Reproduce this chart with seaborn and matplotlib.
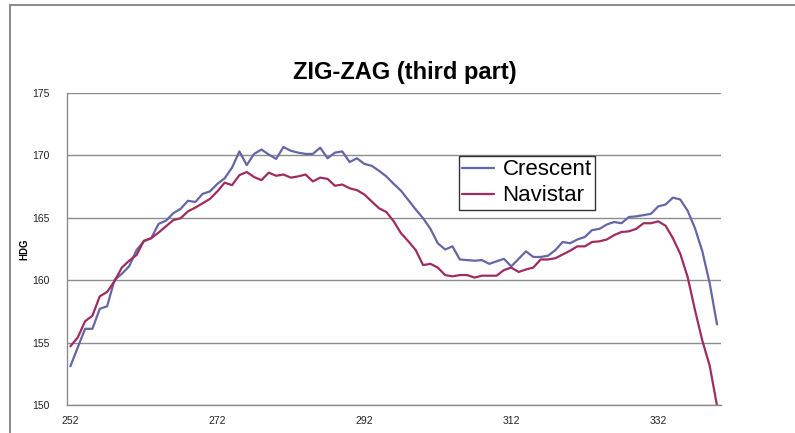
import numpy as np
import pandas as pd
import matplotlib
matplotlib.use("Agg")
import matplotlib.pyplot as plt
import seaborn as sns
from matplotlib.patches import Rectangle
from matplotlib.lines import Line2D

x_start = 252
crescent = [153.1, 154.6, 156.1, 156.1, 157.7, 157.9, 160.0, 160.5, 161.1, 162.4,
            163.1, 163.35, 164.5, 164.75, 165.35, 165.7, 166.35, 166.25, 166.9, 167.1,
            167.7, 168.15, 169.0, 170.3, 169.2, 170.1, 170.45, 170.05, 169.7, 170.65,
            170.35, 170.2, 170.1, 170.1, 170.6, 169.75, 170.2, 170.3, 169.45, 169.75,
            169.3, 169.15, 168.75, 168.3, 167.7, 167.15, 166.4, 165.65, 164.95, 164.1,
            162.95, 162.45, 162.7, 161.65, 161.6, 161.55, 161.6, 161.3, 161.5, 161.7,
            161.1, 161.7, 162.3, 161.85, 161.85, 161.95, 162.4, 163.05, 162.95, 163.25,
            163.45, 164.0, 164.1, 164.45, 164.65, 164.55, 165.05, 165.1, 165.2, 165.3,
            165.9, 166.05, 166.6, 166.45, 165.55, 164.15, 162.3, 159.75, 156.45]
navistar = [154.7, 155.4, 156.7, 157.15, 158.7, 159.05, 159.9, 161.0, 161.55, 162.0,
            163.15, 163.35, 163.8, 164.3, 164.8, 164.95, 165.5, 165.8, 166.15, 166.5,
            167.1, 167.8, 167.6, 168.4, 168.65, 168.25, 168.0, 168.6, 168.35, 168.45,
            168.2, 168.3, 168.45, 167.9, 168.2, 168.1, 167.55, 167.65, 167.35, 167.2,
            166.85, 166.3, 165.75, 165.45, 164.7, 163.75, 163.1, 162.4, 161.2, 161.3,
            161.0, 160.4, 160.3, 160.4, 160.4, 160.2, 160.35, 160.35, 160.35, 160.8,
            161.0, 160.65, 160.85, 161.0, 161.65, 161.65, 161.75, 162.05, 162.35, 162.7,
            162.7, 163.05, 163.1, 163.25, 163.6, 163.85, 163.9, 164.1, 164.55, 164.55,
            164.7, 164.35, 163.35, 162.1, 160.25, 157.6, 155.15, 153.15, 149.95]
series_names = ["Crescent", "Navistar"]
x_tick_labels = [252, 272, 292, 312, 332]
y_ticks = [150, 155, 160, 165, 170, 175]

xs = np.arange(x_start, x_start + len(crescent))
df = pd.DataFrame({
    "x": np.concatenate([xs, xs]),
    "HDG": crescent + navistar,
    "series": [series_names[0]] * len(xs) + [series_names[1]] * len(xs),
})

sns.set_style("white")
plt.rcParams["font.family"] = ["Liberation Sans", "DejaVu Sans"]
plt.rcParams["text.color"] = "black"
plt.rcParams["axes.labelcolor"] = "black"
plt.rcParams["xtick.labelcolor"] = "#222222"
plt.rcParams["ytick.labelcolor"] = "#222222"

W, H = 795, 433
fig = plt.figure(figsize=(W / 100, H / 100), dpi=100)
ax = fig.add_axes([66.7 / W, 1 - 405 / H, (720.7 - 66.7) / W, (405 - 92.7) / H])

# chart area border
fig.patches.append(Rectangle((10 / W, -0.1), 1.2, 1 - 5 / H + 0.1, transform=fig.transFigure,
                             fill=False, edgecolor="#8c8c8c", linewidth=1.5, zorder=0))

palette = {"Crescent": "#6466A6", "Navistar": "#9E2C60"}
sns.lineplot(data=df, x="x", y="HDG", hue="series", hue_order=series_names,
             palette=palette, linewidth=1.6, ax=ax, legend=False)

ax.set_xlim(x_start - 0.5, x_start - 0.5 + len(crescent))
ax.set_ylim(150, 175)
ax.set_yticks(y_ticks)
ax.set_yticklabels([str(v) for v in y_ticks], fontsize=7.5)
ax.set_xticks(x_tick_labels)
ax.set_xticklabels([str(v) for v in x_tick_labels], fontsize=7.5)
ax.tick_params(axis="x", length=0, pad=8)
ax.set_xticks([t - 0.5 for t in x_tick_labels] + [x_start - 0.5 + len(crescent)], minor=True)
ax.tick_params(axis="x", which="minor", length=4, color="#8c8c8c", width=1)
ax.tick_params(axis="y", length=3.6, color="#8c8c8c", width=1, pad=9)
ax.grid(axis="y", color="#8c8c8c", linewidth=1)
ax.set_axisbelow(True)
for s in ["top", "right"]:
    ax.spines[s].set_visible(False)
for s in ["left", "bottom"]:
    ax.spines[s].set_color("#8c8c8c")
    ax.spines[s].set_linewidth(1)

ax.set_xlabel("")
ax.set_ylabel("HDG", fontsize=7, fontweight="bold", labelpad=2)
fig.text(405 / W, 1 - 72 / H, "ZIG-ZAG (third part)", fontsize=17, fontweight="bold",
         ha="center", va="center", color="black")

handles = [Line2D([0], [0], color=palette[n], linewidth=1.6) for n in series_names]
leg = ax.legend(handles, series_names, loc="upper left", bbox_to_anchor=(0.600, 0.797),
                borderaxespad=0, fontsize=16, frameon=True, fancybox=False,
                handlelength=1.4, handletextpad=0.4, borderpad=0.15, labelspacing=0.22,
                labelcolor="black")
leg.get_frame().set_edgecolor("black")
leg.get_frame().set_linewidth(1)

fig.savefig("out.png", dpi=100)
